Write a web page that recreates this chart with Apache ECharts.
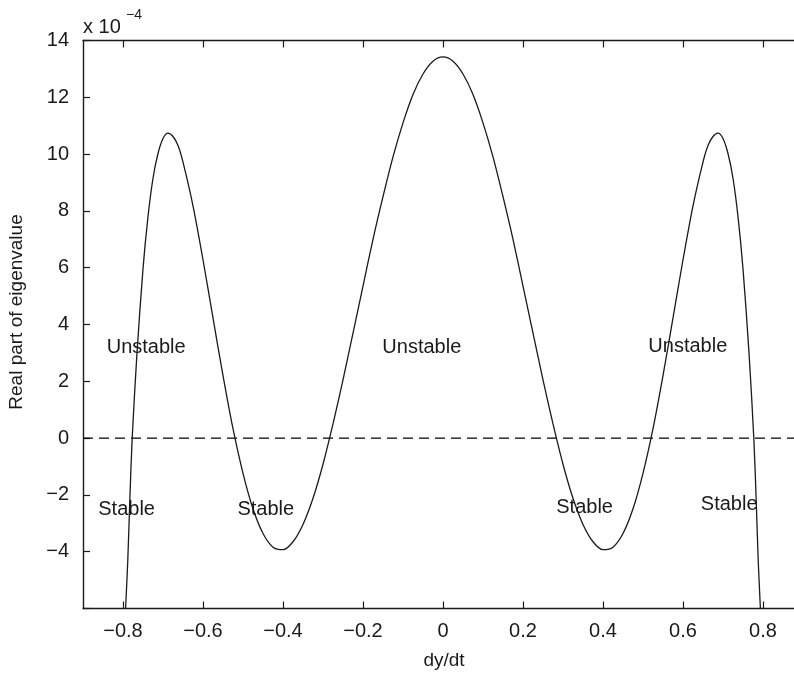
<!DOCTYPE html>
<html>
<head>
<meta charset="utf-8">
<script src="https://cdn.jsdelivr.net/npm/echarts@6/dist/echarts.min.js"></script>
<style>
  html, body { margin: 0; padding: 0; background: #fff; overflow: hidden; }
  #chart { width: 804px; height: 674px; }
</style>
</head>
<body>
<div id="chart"></div>
<script>
// Real part of the eigenvalue (units of 1e-4) versus dy/dt
const dydt = [
  -0.7935, -0.788, -0.783, -0.777, -0.765, -0.75, -0.7375, -0.725, -0.7125, -0.7,
  -0.6875, -0.675, -0.6625, -0.65, -0.625, -0.6, -0.575, -0.55, -0.525, -0.5,
  -0.475, -0.45, -0.425, -0.4, -0.375, -0.35, -0.325, -0.3, -0.275, -0.25,
  -0.225, -0.2, -0.175, -0.15, -0.125, -0.1, -0.075, -0.05, -0.025,
  0,
  0.025, 0.05, 0.075, 0.1, 0.125, 0.15, 0.175, 0.2, 0.225, 0.25,
  0.275, 0.3, 0.325, 0.35, 0.375, 0.4, 0.425, 0.45, 0.475, 0.5,
  0.525, 0.55, 0.575, 0.6, 0.625, 0.65, 0.6625, 0.675, 0.6875, 0.7,
  0.7125, 0.725, 0.7375, 0.75, 0.765, 0.777, 0.783, 0.788, 0.7935
];
const realPart = [
  -6.0, -4.29, -2.2, 0, 3.0, 5.96, 7.8, 9.15, 10.02, 10.55,
  10.74, 10.62, 10.3, 9.72, 8.18, 6.28, 4.23, 2.2, 0.33, -1.24,
  -2.49, -3.36, -3.84, -3.93, -3.65, -3.04, -2.12, -0.92, 0.5, 2.05,
  3.7, 5.35, 7.0, 8.5, 9.9, 11.1, 12.1, 12.82, 13.27,
  13.42,
  13.27, 12.82, 12.1, 11.1, 9.9, 8.5, 7.0, 5.35, 3.7, 2.05,
  0.5, -0.92, -2.12, -3.04, -3.65, -3.93, -3.84, -3.36, -2.49, -1.24,
  0.33, 2.2, 4.23, 6.28, 8.18, 9.72, 10.3, 10.62, 10.74, 10.55,
  10.02, 9.15, 7.8, 5.96, 3.0, 0, -2.2, -4.29, -6.0
];

// Zero reference line
const zeroLineX = [-0.9, 0.9];
const zeroLineY = [0, 0];

// Region annotations
const regionText = ['Unstable', 'Stable', 'Stable', 'Unstable', 'Unstable', 'Stable', 'Stable'];
const regionX = [-0.742, -0.791, -0.443, -0.053, 0.612, 0.354, 0.7155];
const regionY = [3.2, -2.52, -2.52, 3.2, 3.23, -2.43, -2.34];

// Axis ticks
const xTicks = [-0.8, -0.6, -0.4, -0.2, 0, 0.2, 0.4, 0.6, 0.8];
const yTicks = [-6, -4, -2, 0, 2, 4, 6, 8, 10, 12, 14];

const FONT = '"Liberation Sans", Arial, Helvetica, sans-serif';
const INK = '#1a1a1a';
const minus = v => String(v).replace('-', '\u2212');

const chart = echarts.init(document.getElementById('chart'), null, { renderer: 'canvas' });

const axisLineStyle = { color: INK, width: 1.4 };
const tickStyle = { color: INK, width: 1.2 };

chart.setOption({
  animation: false,
  backgroundColor: '#fff',
  grid: { left: 83, right: 1, top: 40.5, bottom: 65.5, containLabel: false },
  xAxis: [
    {
      type: 'value', min: -0.9, max: 0.9, position: 'bottom',
      axisLine: { show: true, onZero: false, lineStyle: axisLineStyle },
      axisTick: { show: true, inside: true, length: 7, lineStyle: tickStyle, customValues: xTicks },
      axisLabel: {
        show: true, customValues: xTicks, margin: 13, color: INK,
        fontFamily: FONT, fontSize: 20, formatter: v => minus(+v.toFixed(1))
      },
      splitLine: { show: false }
    },
    {
      type: 'value', min: -0.9, max: 0.9, position: 'top',
      axisLine: { show: true, onZero: false, lineStyle: axisLineStyle },
      axisTick: { show: true, inside: true, length: 7, lineStyle: tickStyle, customValues: xTicks },
      axisLabel: { show: false },
      splitLine: { show: false }
    }
  ],
  yAxis: [
    {
      type: 'value', min: -6, max: 14, position: 'left',
      axisLine: { show: true, onZero: false, lineStyle: axisLineStyle },
      axisTick: { show: true, inside: true, length: 7, lineStyle: tickStyle, customValues: yTicks },
      axisLabel: {
        show: true, customValues: yTicks.slice(1), margin: 14, color: INK,
        fontFamily: FONT, fontSize: 20, formatter: v => minus(v)
      },
      splitLine: { show: false }
    },
    {
      type: 'value', min: -6, max: 14, position: 'right',
      axisLine: { show: true, onZero: false, lineStyle: axisLineStyle },
      axisTick: { show: true, inside: true, length: 7, lineStyle: tickStyle, customValues: yTicks },
      axisLabel: { show: false },
      splitLine: { show: false }
    }
  ],
  graphic: [
    {
      type: 'text', x: 83, y: 27,
      style: { text: 'x 10', font: '20px ' + FONT, fill: INK, align: 'left', verticalAlign: 'middle' }
    },
    {
      type: 'text', x: 126, y: 15,
      style: { text: '\u22124', font: '14px ' + FONT, fill: INK, align: 'left', verticalAlign: 'middle' }
    },
    {
      type: 'text', x: 17, y: 312, rotation: Math.PI / 2,
      style: {
        text: 'Real part of eigenvalue', font: '19px ' + FONT, fill: INK,
        align: 'center', verticalAlign: 'middle'
      }
    },
    {
      type: 'text', x: 444, y: 661,
      style: {
        text: 'dy/dt', font: '19px ' + FONT, fill: INK,
        align: 'center', verticalAlign: 'middle'
      }
    }
  ],
  series: [
    {
      name: 'zero', type: 'line', xAxisIndex: 0, yAxisIndex: 0,
      data: zeroLineX.map((x, i) => [x, zeroLineY[i]]),
      symbol: 'none', silent: true,
      lineStyle: { color: '#000', width: 1.2, type: [10, 6] }
    },
    {
      name: 'eigenvalue', type: 'line', xAxisIndex: 0, yAxisIndex: 0,
      data: dydt.map((x, i) => [x, realPart[i]]),
      symbol: 'none', smooth: 0.3, clip: true,
      lineStyle: { color: INK, width: 1.3 }
    },
    {
      name: 'regions', type: 'scatter', xAxisIndex: 0, yAxisIndex: 0,
      data: regionX.map((x, i) => ({ value: [x, regionY[i]], name: regionText[i] })),
      symbolSize: 0, silent: true,
      itemStyle: { opacity: 1 },
      label: {
        show: true, position: 'inside', formatter: p => p.name,
        color: INK, opacity: 1, fontFamily: FONT, fontSize: 20
      },
      emphasis: { disabled: true }
    }
  ]
});
</script>
</body>
</html>
